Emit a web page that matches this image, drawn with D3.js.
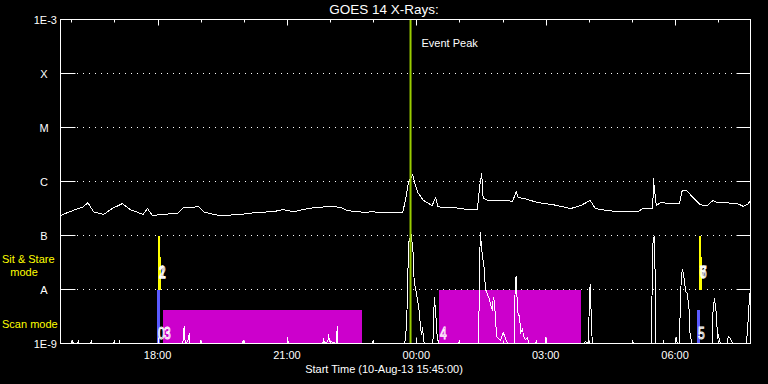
<!DOCTYPE html>
<html>
<head>
<meta charset="utf-8">
<script src="https://cdn.jsdelivr.net/npm/d3@7"></script>
<style>
body { margin: 0; background: #000; }
#vis { width: 768px; height: 384px; }
text { font-family: "Liberation Sans", Arial, sans-serif; font-size: 11px; fill: #fff; }
</style>
</head>
<body>
<div id="vis"></div>
<script>
// GOES 14, 1-8 A channel (W/m^2), times UT
var longTimes = ['15:45', '15:52', '16:02', '16:09', '16:16', '16:23', '16:31', '16:45', '16:57', '17:11',
    '17:22', '17:32', '17:40', '17:46', '17:53', '18:04', '18:28', '18:36', '18:50', '18:57',
    '19:04', '19:18', '19:28', '19:55', '20:19', '20:41', '20:54', '21:09', '21:29', '21:43',
    '22:01', '22:15', '22:24', '22:47', '22:59', '23:06', '23:24', '23:41', '23:45', '23:49',
    '23:55', '23:58', '00:02', '00:10', '00:22', '00:27', '00:30', '00:34', '00:52', '01:11',
    '01:25', '01:28', '01:31', '01:33', '01:39', '02:01', '02:14', '02:19', '02:22', '02:29',
    '02:49', '03:11', '03:35', '03:49', '04:02', '04:09', '04:26', '04:48', '05:08', '05:15',
    '05:29', '05:30', '05:31', '05:34', '05:40', '05:54', '06:06', '06:10', '06:16', '06:26',
    '06:35', '06:45', '06:53', '06:58', '07:07', '07:27', '07:35', '07:42', '07:45'];
var longFlux = [2.34e-7, 2.57e-7, 2.88e-7, 3.16e-7, 3.31e-7, 4.07e-7, 2.75e-7, 2.45e-7, 3.16e-7, 3.89e-7,
    3.02e-7, 2.69e-7, 2.45e-7, 3.16e-7, 2.34e-7, 2.45e-7, 2.57e-7, 3.31e-7, 3.31e-7, 3.47e-7,
    2.75e-7, 2.45e-7, 2.34e-7, 2.45e-7, 2.69e-7, 2.75e-7, 3.02e-7, 2.75e-7, 3.16e-7, 3.31e-7,
    3.47e-7, 3.31e-7, 2.88e-7, 2.69e-7, 2.75e-7, 2.69e-7, 2.69e-7, 2.69e-7, 4.47e-7, 9.5e-7,
    1.35e-6, 9.1e-7, 6.3e-7, 4.47e-7, 3.6e-7, 5.0e-7, 3.5e-7, 3.31e-7, 3.31e-7, 3.02e-7,
    3.02e-7, 7.8e-7, 1.41e-6, 4.9e-7, 4.47e-7, 4.47e-7, 4.3e-7, 6.5e-7, 5.0e-7, 4.9e-7,
    4.07e-7, 3.7e-7, 3.16e-7, 3.6e-7, 4.47e-7, 3.16e-7, 2.88e-7, 2.75e-7, 2.75e-7, 3.16e-7,
    3.16e-7, 1.15e-6, 7.8e-7, 3.6e-7, 4.07e-7, 3.89e-7, 3.89e-7, 6.8e-7, 6.8e-7, 4.9e-7,
    3.7e-7, 3.6e-7, 4.47e-7, 4.07e-7, 4.07e-7, 3.89e-7, 3.47e-7, 3.89e-7, 4.47e-7];

// GOES 14, 0.5-4 A channel (W/m^2), 1E-9 = below scale
var shortTimes = ['15:45', '16:01', '16:02', '16:03', '16:09', '16:10', '16:11', '16:27', '16:28', '16:29',
    '16:59', '17:00', '17:01', '17:06', '17:07', '17:08', '18:35', '18:36', '18:37', '18:38',
    '18:40', '18:43', '18:44', '18:45', '18:59', '19:00', '19:01', '19:58', '19:59', '20:00',
    '21:00', '21:01', '21:02', '21:50', '21:51', '21:53', '21:57', '21:58', '21:59', '22:09',
    '22:10', '22:11', '22:59', '23:00', '23:01', '23:44', '23:46', '23:48', '23:49', '23:53',
    '23:55', '23:56', '23:57', '00:00', '00:02', '00:03', '00:04', '00:07', '00:09', '00:10',
    '00:13', '00:23', '00:24', '00:25', '00:27', '00:29', '00:31', '00:59', '01:00', '01:01',
    '01:26', '01:27', '01:28', '01:29', '01:32', '01:35', '01:36', '01:39', '01:42', '01:43',
    '01:46', '01:47', '01:49', '01:50', '01:52', '01:57', '02:01', '02:04', '02:07', '02:16',
    '02:17', '02:18', '02:19', '02:21', '02:22', '02:24', '02:25', '02:28', '02:29', '02:32',
    '02:35', '02:36', '02:46', '02:47', '02:48', '02:59', '03:00', '03:01', '03:54', '03:55',
    '03:59', '04:00', '04:01', '04:02', '04:04', '04:05', '05:00', '05:01', '05:02', '05:27',
    '05:29', '05:31', '05:32', '05:33', '05:43', '05:44', '05:45', '06:01', '06:02', '06:03',
    '06:06', '06:08', '06:10', '06:12', '06:13', '06:15', '06:17', '06:20', '06:21', '06:24',
    '06:52', '06:53', '06:55', '06:58', '06:59', '07:00', '07:03', '07:13', '07:14', '07:17',
    '07:20', '07:39', '07:41', '07:42', '07:44', '07:45'];
var shortFlux = [1e-9, 1e-9, 1.14e-9, 1e-9, 1e-9, 1.14e-9, 1e-9, 1e-9, 1.09e-9, 1e-9,
    1e-9, 1.14e-9, 1e-9, 1e-9, 1.09e-9, 1e-9, 1e-9, 1.3e-9, 2.07e-9, 1.2e-9,
    1e-9, 1.2e-9, 1.53e-9, 1e-9, 1e-9, 1.14e-9, 1e-9, 1e-9, 1.14e-9, 1e-9,
    1e-9, 1.29e-9, 1e-9, 1e-9, 1.19e-9, 1e-9, 1.1e-9, 1.47e-9, 1.1e-9, 1e-9,
    2.07e-9, 1e-9, 1e-9, 1.14e-9, 1e-9, 1e-9, 1.82e-9, 8.4e-9, 7.1e-8, 1.04e-7,
    5.7e-8, 4.3e-8, 1.41e-8, 8.8e-9, 6.0e-9, 5.1e-9, 3.9e-9, 1.47e-9, 2.0e-9, 1.09e-9,
    1e-9, 1e-9, 1.9e-9, 7.4e-9, 3.75e-9, 1.4e-9, 1e-9, 1e-9, 1.14e-9, 1e-9,
    1e-9, 2.15e-9, 1.67e-8, 1.14e-7, 4.1e-8, 2.25e-8, 1.04e-8, 8.1e-9, 6.5e-9, 5.3e-9,
    4.1e-9, 7.1e-9, 6.0e-9, 2.8e-9, 1.35e-9, 1.14e-9, 1.6e-9, 1.24e-9, 1e-9, 1e-9,
    5.3e-9, 1.6e-8, 1.74e-8, 3.9e-9, 3.6e-9, 3.0e-9, 1.53e-9, 1.9e-9, 1.35e-9, 1.19e-9,
    1.29e-9, 1e-9, 1e-9, 1.14e-9, 1e-9, 1e-9, 1.29e-9, 1e-9, 1e-9, 1.09e-9,
    1e-9, 2.07e-9, 7.4e-9, 1.29e-8, 1.82e-9, 1e-9, 1e-9, 1.14e-9, 1e-9, 1e-9,
    6.8e-8, 9.6e-8, 4.3e-8, 1e-9, 1e-9, 1.09e-9, 1e-9, 1e-9, 1.29e-9, 1e-9,
    1e-9, 1.04e-8, 2.34e-8, 1.9e-8, 1.41e-8, 9.2e-9, 8.4e-9, 3.75e-9, 1.35e-9, 1e-9,
    1e-9, 4.8e-9, 6.8e-9, 3.0e-9, 1.19e-9, 1.47e-9, 1e-9, 1e-9, 1.35e-9, 1.24e-9,
    1e-9, 1e-9, 1.74e-9, 3.44e-9, 8.1e-9, 9.6e-9];

var yTickFlux = [1e-3, 1e-4, 1e-5, 1e-6, 1e-7, 1e-8, 1e-9];
var yTickNames = ['1E-3', 'X', 'M', 'C', 'B', 'A', '1E-9'];
var gridFlux = [1e-4, 1e-5, 1e-6, 1e-7, 1e-8];

// observation blocks
var obsLabels = ['0', '1', '2', '3', '4', '5', '6', '7'];
var obsMode = ['scan', 'stare', 'stare', 'raster', 'raster', 'scan', 'stare', 'stare'];
var obsStart = ['17:59', '18:01', '18:01', '18:08', '00:32', '06:31', '06:34', '06:34'];
var obsEnd = ['18:03', '18:04', '18:05', '22:45', '03:50', '06:35', '06:38', '06:37'];
var obsTop = [1e-8, 1e-7, 4e-8, 4.1e-9, 1e-8, 4.1e-9, 4e-8, 1e-7];

var peakTime = '23:52';
var startTime = '15:45';
var endTime = '07:45';

function parseT(s) {
    var p = s.split(':');
    var h = +p[0];
    var day = h < 15 ? 11 : 10;
    return new Date(Date.UTC(2013, 7, day, h, +p[1]));
}

var width = 768, height = 384;
var plot = { left: 60.5, right: 750.5, top: 19.5, bottom: 343.5 };

var svg = d3.select('#vis')
    .append('svg')
    .attr('width', width)
    .attr('height', height)
    .style('background', '#000');

var x = d3.scaleUtc()
    .domain([parseT(startTime), parseT(endTime)])
    .range([plot.left, plot.right]);

var y = d3.scaleLog()
    .domain([1e-9, 1e-3])
    .range([plot.bottom, plot.top]);

svg.append('defs').append('clipPath')
    .attr('id', 'plotclip')
    .append('rect')
    .attr('x', plot.left).attr('y', plot.top)
    .attr('width', plot.right - plot.left).attr('height', plot.bottom - plot.top);

// grid lines and level ticks
svg.selectAll('.grid')
    .data(gridFlux)
    .enter()
    .append('line')
    .attr('x1', 77).attr('x2', 736)
    .attr('y1', function (d) { return y(d); })
    .attr('y2', function (d) { return y(d); })
    .attr('stroke', '#fff')
    .attr('stroke-dasharray', '1,5');

svg.selectAll('.ltick')
    .data(gridFlux)
    .enter()
    .append('path')
    .attr('d', function (d) {
        return 'M' + plot.left + ',' + y(d) + 'H' + (plot.left + 15) +
            'M' + (plot.right - 14) + ',' + y(d) + 'H' + plot.right;
    })
    .attr('stroke', '#fff');

svg.selectAll('.ylab')
    .data(yTickFlux)
    .enter()
    .append('text')
    .attr('x', function (d, i) { return yTickNames[i].length > 1 ? 57 : 44; })
    .attr('y', function (d) { return y(d) + 4; })
    .attr('text-anchor', function (d, i) { return yTickNames[i].length > 1 ? 'end' : 'middle'; })
    .text(function (d, i) { return yTickNames[i]; });

// observation blocks
var obsColour = { stare: '#ffff00', scan: '#5a5aff', raster: '#cc00cc' };
var obsBase = { stare: 1e-8, scan: 1e-9, raster: 1e-9 };
var obs = obsLabels.map(function (l, i) {
    return { label: l, mode: obsMode[i], start: parseT(obsStart[i]), end: parseT(obsEnd[i]), top: obsTop[i] };
});

svg.selectAll('.obs')
    .data(obs)
    .enter()
    .append('rect')
    .attr('x', function (d) { return Math.round(x(d.start)); })
    .attr('width', function (d) { return Math.max(2, Math.round(x(d.end) - x(d.start))); })
    .attr('y', function (d) { return Math.round(y(d.top)); })
    .attr('height', function (d) { return Math.round(y(obsBase[d.mode])) - Math.round(y(d.top)); })
    .attr('fill', function (d) { return obsColour[d.mode]; })
    .attr('shape-rendering', 'crispEdges');

// flux curves
var line = d3.line()
    .x(function (d) { return x(d[0]); })
    .y(function (d) { return y(d[1]); });

var longData = longTimes.map(function (t, i) { return [parseT(t), longFlux[i]]; });
var shortData = shortTimes.map(function (t, i) { return [parseT(t), shortFlux[i]]; });

var curves = svg.append('g').attr('clip-path', 'url(#plotclip)');
curves.append('path')
    .datum(longData)
    .attr('d', line)
    .attr('fill', 'none')
    .attr('stroke', '#fff')
    .attr('shape-rendering', 'crispEdges');
curves.append('path')
    .datum(shortData)
    .attr('d', line)
    .attr('fill', 'none')
    .attr('stroke', '#fff')
    .attr('shape-rendering', 'crispEdges');

// event peak
svg.append('line')
    .attr('x1', x(parseT(peakTime))).attr('x2', x(parseT(peakTime)))
    .attr('y1', plot.top).attr('y2', plot.bottom)
    .attr('stroke', '#99cc00')
    .attr('stroke-width', 2);

svg.append('text')
    .attr('x', x(parseT(peakTime)) + 11)
    .attr('y', 47)
    .text('Event Peak');

// block labels (narrow outline digits)
svg.selectAll('.obslab')
    .data(obs)
    .enter()
    .append('text')
    .attr('transform', function (d) {
        var ly = d.mode == 'stare' ? 278 : 339;
        return 'translate(' + (Math.round(x(d.start)) + 1) + ',' + ly + ') scale(0.75,1)';
    })
    .style('font-size', '16px')
    .style('fill', 'none')
    .attr('stroke', '#fff')
    .attr('stroke-width', 1)
    .text(function (d) { return d.label; });

// frame and time axes
svg.append('rect')
    .attr('x', plot.left).attr('y', plot.top)
    .attr('width', plot.right - plot.left).attr('height', plot.bottom - plot.top)
    .attr('fill', 'none')
    .attr('stroke', '#fff');

var hours = x.ticks(d3.utcHour.every(1));
var major = x.ticks(d3.utcHour.every(3));

svg.selectAll('.tick')
    .data(hours)
    .enter()
    .append('path')
    .attr('d', function (d) {
        var len = major.some(function (m) { return +m == +d; }) ? 6 : 3;
        var px = Math.round(x(d)) + 0.5;
        return 'M' + px + ',' + plot.top + 'v' + len + 'M' + px + ',' + plot.bottom + 'v' + (-len);
    })
    .attr('stroke', '#fff');

svg.selectAll('.xlab')
    .data(major)
    .enter()
    .append('text')
    .attr('x', function (d) { return x(d); })
    .attr('y', 359)
    .attr('text-anchor', 'middle')
    .text(d3.utcFormat('%H:%M'));

svg.append('text')
    .attr('x', 384).attr('y', 373)
    .attr('text-anchor', 'middle')
    .text('Start Time (10-Aug-13 15:45:00)');

svg.append('text')
    .attr('x', 384).attr('y', 14)
    .attr('text-anchor', 'middle')
    .style('font-size', '13.5px')
    .text('GOES 14 X-Rays:');

// mode legend
svg.append('text').attr('x', 2).attr('y', 263).style('fill', '#ffff00').text('Sit & Stare');
svg.append('text').attr('x', 24).attr('y', 276).attr('text-anchor', 'middle').style('fill', '#ffff00').text('mode');
svg.append('text').attr('x', 2).attr('y', 328).style('fill', '#ffff00').text('Scan mode');
</script>
</body>
</html>
